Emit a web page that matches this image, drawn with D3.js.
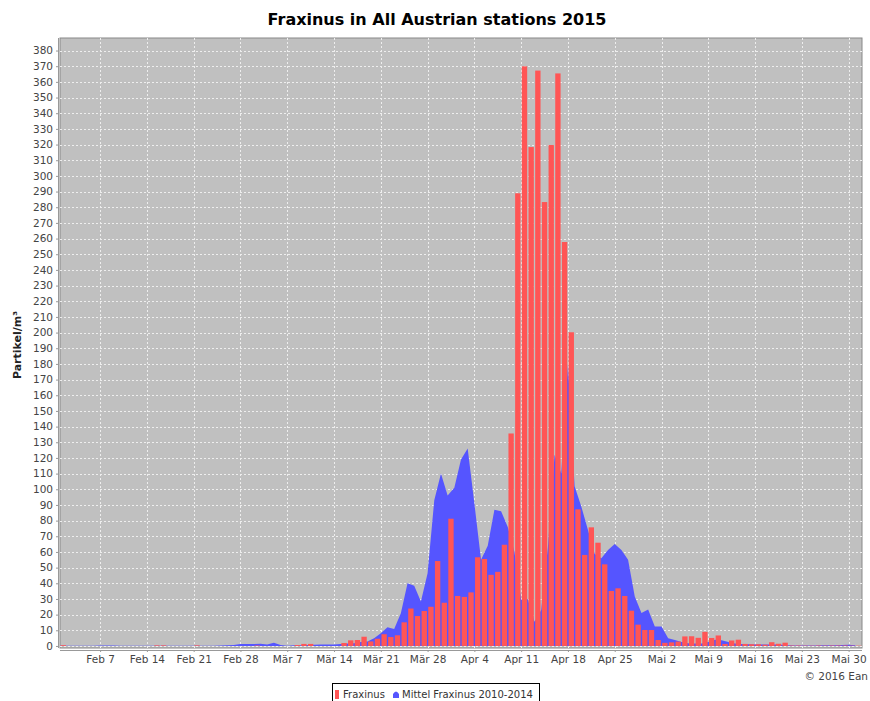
<!DOCTYPE html>
<html>
<head>
<meta charset="utf-8">
<script src="https://cdn.jsdelivr.net/npm/d3@7"></script>
<style>
  body { margin: 0; background: #fff; }
  text { font-family: "DejaVu Sans", sans-serif; }
</style>
</head>
<body>
<script>
// daily values, Feb 1 .. May 31 2015
var firstDay = Date.UTC(2015, 1, 1);
var fraxinus = [
  // Feb
  0.5,0,0,0,0,0,0,0,0,0,0,0,0,0,0.4,0.4,0,0,0,0,0.4,0,0,0,0,0,0,0,
  // Mar
  0,0.3,0,0,0,0,0,0.6,1.3,1.3,0,0,0,0,1.9,3.6,3.8,5.9,2.9,4.6,7.5,5.7,6.8,15.1,23.9,19.1,22.3,25,54.2,27.6,81.2,
  // Apr
  31.9,31.3,34.2,56.6,55.5,45.4,47.3,64.6,135.6,288.9,369.9,318.4,367.2,283.3,319.7,365.4,257.8,200.2,87.2,58.1,75.7,65.9,52.1,35.1,36.8,31.9,22.5,13.6,10.2,10.2,
  // Mai
  3.8,2,2.3,2.8,6.1,6.2,5.2,9,5.1,6.7,1.3,3.5,4,1.3,1.1,1.1,0.8,2.4,1.4,2.1,0.3,0.3,0.2,0.2,0.3,0.2,0.3,0.3,0.3,0.2,0.2
];
var mittel = [
  // Feb
  0.2,0.2,0.2,0.2,0.2,0.2,0.3,0.3,0.3,0.2,0.2,0.2,0.2,0.2,0.2,0.2,0.2,0.2,0.2,0.2,0.2,0.2,0.2,0.2,0.3,0.4,0.6,1.3,
  // Mar
  1.3,1.2,1.4,1.0,2.1,0.6,0.2,0.4,0.5,0.6,0.8,0.9,1.0,1.0,1.2,1.5,1.8,2.5,2.8,4.9,8.1,11.9,10.8,20.8,40,38.5,28.3,46.4,93,110,96,
  // Apr
  101,119,126,91,55,64,87,86,76,60,29.5,29.8,15.5,23,63,122,110,180,102,89,74,58.7,56,61.3,65,61.3,55,31.5,21,23.2,
  // Mai
  12.5,12.4,4.9,3.8,2.5,1.7,1.5,1.5,2.5,4.0,3.6,2.5,1.5,1.2,1.1,1.0,1.0,1.0,0.9,0.8,0.4,0.3,0.3,0.3,0.3,0.4,0.4,0.5,0.6,0.8,0.4
];
var seriesNames = ["Fraxinus", "Mittel Fraxinus 2010-2014"];
var yTicks = d3.range(0, 381, 10);

var width = 870, height = 701;
var plot = {left: 60, right: 862, top: 38, bottom: 648};

var de = d3.timeFormatLocale({
  dateTime: "%A, der %e. %B %Y, %X", date: "%d.%m.%Y", time: "%H:%M:%S",
  periods: ["AM", "PM"],
  days: ["Sonntag","Montag","Dienstag","Mittwoch","Donnerstag","Freitag","Samstag"],
  shortDays: ["So","Mo","Di","Mi","Do","Fr","Sa"],
  months: ["Januar","Februar","März","April","Mai","Juni","Juli","August","September","Oktober","November","Dezember"],
  shortMonths: ["Jan","Feb","Mär","Apr","Mai","Jun","Jul","Aug","Sep","Okt","Nov","Dez"]
});

var days = fraxinus.map(function(v, i) { return d3.utcDay.offset(new Date(firstDay), i); });

var x = d3.scaleUtc()
  .domain([new Date(firstDay), new Date(Date.UTC(2015, 5, 1))])
  .range([plot.left, plot.right]);
var y = d3.scaleLinear()
  .domain([-1.3, 388])
  .range([plot.bottom, plot.top]);

var svg = d3.select('body').append('svg')
  .attr('width', width)
  .attr('height', height);

// title
svg.append('text')
  .attr('x', 437).attr('y', 25)
  .attr('text-anchor', 'middle')
  .style('font-size', '16px').style('font-weight', 'bold')
  .text('Fraxinus in All Austrian stations 2015');

// plot background
svg.append('rect')
  .attr('x', plot.left).attr('y', plot.top)
  .attr('width', plot.right - plot.left).attr('height', plot.bottom - plot.top)
  .attr('fill', '#c0c0c0').attr('stroke', '#888').attr('stroke-width', 1);

var xTicks = x.ticks(d3.utcSaturday);

// grid
svg.append('g').selectAll('line.h')
  .data(yTicks).enter().append('line')
  .attr('x1', plot.left).attr('x2', plot.right)
  .attr('y1', function(d) { return Math.round(y(d)) + 0.5; })
  .attr('y2', function(d) { return Math.round(y(d)) + 0.5; })
  .attr('stroke', '#eee').attr('stroke-dasharray', '2,2');
svg.append('g').selectAll('line.v')
  .data(xTicks).enter().append('line')
  .attr('y1', plot.top).attr('y2', plot.bottom)
  .attr('x1', function(d) { return Math.round(x(d)) + 0.5; })
  .attr('x2', function(d) { return Math.round(x(d)) + 0.5; })
  .attr('stroke', '#eee').attr('stroke-dasharray', '2,2');

// Mittel as area, drawn behind the bars
var area = d3.area()
  .x(function(d, i) { return x(days[i]); })
  .y0(y(0))
  .y1(function(d) { return y(d); });
svg.append('path')
  .datum(mittel)
  .attr('d', area)
  .attr('fill', '#5555ff');

// Fraxinus bars
var dayW = x(days[1]) - x(days[0]);
svg.append('g').selectAll('rect')
  .data(fraxinus).enter().append('rect')
  .attr('x', function(d, i) { return x(days[i]) + dayW * 0.1; })
  .attr('width', dayW * 0.8)
  .attr('y', function(d) { return y(d); })
  .attr('height', function(d) { return Math.max(0, y(0) - y(d)); })
  .attr('fill', '#ff5555');

// axes
var yAxis = svg.append('g')
  .attr('transform', 'translate(' + (plot.left - 2) + ',0)')
  .call(d3.axisLeft(y).tickValues(yTicks).tickSize(2).tickPadding(3));
var xAxis = svg.append('g')
  .attr('transform', 'translate(0,' + (plot.bottom + 2) + ')')
  .call(d3.axisBottom(x).tickValues(xTicks).tickSize(2).tickPadding(4).tickFormat(de.utcFormat('%b %-d')));
[yAxis, xAxis].forEach(function(a) {
  a.select('.domain').attr('stroke', '#999');
  a.selectAll('.tick line').attr('stroke', '#999');
  a.selectAll('.tick text').attr('fill', '#444').style('font-size', '10.5px').style('font-family', '"DejaVu Sans", sans-serif');
});
yAxis.select('.domain').attr('d', 'M0.5,' + plot.top + 'V' + plot.bottom);
xAxis.select('.domain').attr('d', 'M' + plot.left + ',0.5H' + plot.right);

svg.append('text')
  .attr('transform', 'translate(21,345) rotate(-90)')
  .attr('text-anchor', 'middle')
  .style('font-size', '11px').style('font-weight', 'bold').attr('fill', '#222')
  .text('Partikel/m³');

svg.append('text')
  .attr('x', 868).attr('y', 680)
  .attr('text-anchor', 'end')
  .attr('fill', '#444').style('font-size', '10.5px')
  .text('© 2016 Ean');

// legend
var lg = svg.append('g').attr('transform', 'translate(332,683)');
lg.append('rect').attr('x', 0.5).attr('y', 0.5).attr('width', 207).attr('height', 22)
  .attr('fill', '#fff').attr('stroke', '#000');
lg.append('rect').attr('x', 3).attr('y', 7).attr('width', 4).attr('height', 9).attr('fill', '#ff5555');
lg.append('text').attr('x', 11).attr('y', 15).style('font-size', '10px').attr('fill', '#333').text(seriesNames[0]);
lg.append('path').attr('d', 'M61,15 L61,11 Q64,6 67,11 L67,15 Z').attr('fill', '#5555ff');
lg.append('text').attr('x', 70).attr('y', 15).style('font-size', '10px').attr('fill', '#333').text(seriesNames[1]);
</script>
</body>
</html>
